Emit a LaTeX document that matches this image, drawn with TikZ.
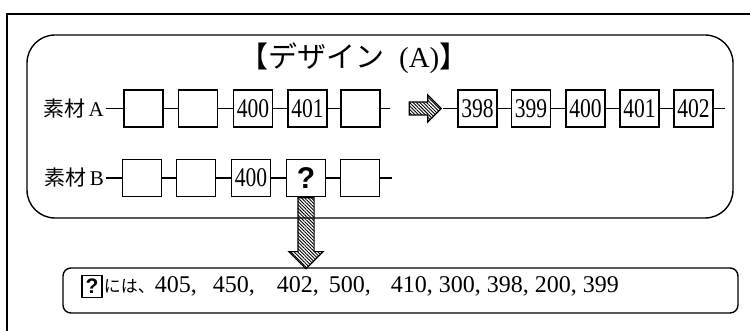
\documentclass[tikz,border=0pt]{standalone}
\usepackage{fontspec}
\setmainfont{Liberation Serif}
\newfontfamily\jpfont{Noto Sans CJK JP}
\newfontfamily\numfont{Liberation Serif}[FakeStretch=0.8]
\newfontfamily\qfont{Liberation Sans}
\usetikzlibrary{positioning, shapes.arrows, patterns.meta}

\begin{document}
\begin{tikzpicture}[
        x=1pt, y=-1pt,
        cell/.style={draw, line width=1.3pt, minimum width=39pt, minimum height=37pt, inner sep=0pt, font=\numfont\fontsize{27}{27}\selectfont},
        qcell/.style={cell, font=\qfont\bfseries\fontsize{30}{30}\selectfont},
        link/.style={line width=1.3pt},
        matlabel/.style={font=\fontsize{21}{21}\selectfont, inner sep=2pt},
        fatarrow/.style={single arrow, draw, line width=1.2pt, pattern={Lines[angle=-45, distance=2.4pt, line width=0.9pt]}},
        panel/.style={draw, line width=1.4pt}
    ]

        \useasboundingbox (0,0) rectangle (750,331);

        % outer frame (cut off at right and bottom)
        \draw[panel] (7,331) -- (7,14) -- (750,14);

        % design panel
        \draw[panel, rounded corners=28pt] (27,35) rectangle (733,218);
        \node[font=\fontsize{29}{29}\selectfont] (title) at (354,58) {{\jpfont 【デザイン}\ \ (A){\jpfont 】}};

        % material A
        \node[matlabel, anchor=east] (labA) at (106,108.5) {{\jpfont 素材}\,A};
        \node[cell] (a1) at (143.5,108.5) {};
        \node[cell] (a2) at (198,108.5) {};
        \node[cell] (a3) at (253,108.5) {400};
        \node[cell] (a4) at (307.5,108.5) {401};
        \node[cell] (a5) at (360.5,108.5) {};
        \coordinate (aend) at (390,108.5);

        \node[fatarrow, inner sep=6pt, minimum height=32pt, single arrow head extend=7pt] (shift) at (422,108.5) {};

        \coordinate (rstart) at (443,108.5);
        \node[cell] (r1) at (477.5,108.5) {398};
        \node[cell] (r2) at (531,108.5) {399};
        \node[cell] (r3) at (585.5,108.5) {400};
        \node[cell] (r4) at (639.5,108.5) {401};
        \node[cell] (r5) at (693.5,108.5) {402};
        \coordinate (rend) at (725,108.5);

        \draw[link] (labA.east) -- (a1.west) (a1) -- (a2) (a2) -- (a3) (a3) -- (a4) (a4) -- (a5) (a5.east) -- (aend);
        \draw[link] (rstart) -- (r1.west) (r1) -- (r2) (r2) -- (r3) (r3) -- (r4) (r4) -- (r5) (r5.east) -- (rend);

        % material B
        \node[matlabel, anchor=east] (labB) at (106,178) {{\jpfont 素材}\,B};
        \node[cell] (b1) at (142,178) {};
        \node[cell] (b2) at (196,178) {};
        \node[cell] (b3) at (251,178) {400};
        \node[qcell] (q) at (306,178) {?};
        \node[cell] (b5) at (360,178) {};
        \coordinate (bend) at (392,178);

        \draw[link] (labB.east) -- (b1.west) (b1) -- (b2) (b2) -- (b3) (b3) -- (q) (q) -- (b5) (b5.east) -- (bend);

        % answer
        \node[panel, rounded corners=8pt, minimum width=675pt, minimum height=45pt] (answer) at (400.5,290.5) {};
        \node[draw, line width=1.3pt, minimum width=20pt, minimum height=22pt, inner sep=0pt, font=\qfont\bfseries\fontsize{21}{21}\selectfont] (qmark) at (92,286.5) {?};
        \node[right=1pt of qmark, inner sep=0pt, font=\fontsize{24}{24}\selectfont] (values) {{\jpfont\fontsize{17}{17}\selectfont には、}405,\hspace{16pt}450,\hspace{22pt}402,\hspace{10pt}500,\hspace{20pt}410, 300, 398, 200, 399};

        \node[fatarrow, shape border rotate=270, anchor=tail, inner sep=7.5pt, minimum height=71pt, single arrow head extend=9pt] (down) at (q.south) {};

    \end{tikzpicture}
\end{document}
